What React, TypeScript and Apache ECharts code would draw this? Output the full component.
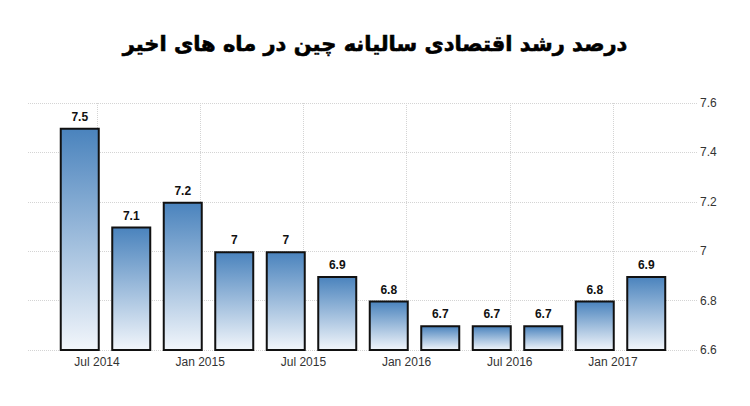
import React, { useEffect, useRef } from "react";
import * as echarts from "echarts";

const quarters = [
  "Q2 2014", "Q3 2014", "Q4 2014", "Q1 2015", "Q2 2015", "Q3 2015",
  "Q4 2015", "Q1 2016", "Q2 2016", "Q3 2016", "Q4 2016", "Q1 2017",
];
const growth = [7.5, 7.1, 7.2, 7, 7, 6.9, 6.8, 6.7, 6.7, 6.7, 6.8, 6.9];
const tickLabels = ["Jul 2014", "Jan 2015", "Jul 2015", "Jan 2016", "Jul 2016", "Jan 2017"];
const yTicks = { min: 6.6, max: 7.6, step: 0.2 };

const title = "درصد رشد اقتصادی سالیانه چین در ماه های اخیر";

export default function App() {
  const chartRef = useRef<HTMLDivElement>(null);

  useEffect(() => {
    document.body.style.margin = "0";
    if (!chartRef.current) return;
    const chart = echarts.init(chartRef.current, null, { renderer: "svg" });

    const gridLine = { show: true, lineStyle: { color: "#d4d4d4", type: "dotted" as const, width: 1 } };

    chart.setOption({
      animation: false,
      backgroundColor: "#fff",
      title: {
        text: title,
        left: "center",
        top: 28,
        textStyle: {
          fontFamily: "DejaVu Sans",
          fontSize: 21,
          fontWeight: "bold",
          color: "#000",
          textBorderColor: "#000",
          textBorderWidth: 0.6,
        },
      },
      grid: [
        // horizontal gridlines + right axis labels
        { left: 28, right: 53, top: 103, bottom: 56 },
        // bars
        { left: 54, right: 78, top: 103, bottom: 56 },
        // vertical gridlines + date labels
        { left: 97, right: 137, top: 103, bottom: 56 },
      ],
      xAxis: [
        { gridIndex: 0, type: "value", show: false, min: 0, max: 1 },
        {
          gridIndex: 1,
          type: "category",
          data: quarters,
          show: false,
          boundaryGap: true,
        },
        {
          gridIndex: 2,
          type: "value",
          min: 0,
          max: (tickLabels.length - 1) * 2,
          interval: 2,
          axisLine: { show: false },
          axisTick: { show: false },
          splitLine: gridLine,
          axisLabel: {
            margin: 6,
            color: "#333",
            fontSize: 12,
            fontFamily: "Liberation Sans",
            formatter: (v: number) => tickLabels[Math.round(v / 2)] ?? "",
          },
        },
      ],
      yAxis: [
        {
          gridIndex: 0,
          type: "value",
          position: "right",
          min: yTicks.min,
          max: yTicks.max,
          interval: yTicks.step,
          axisLine: { show: false },
          axisTick: { show: false },
          splitLine: gridLine,
          axisLabel: {
            margin: 3,
            color: "#333",
            fontSize: 12,
            fontFamily: "Liberation Sans",
            formatter: (v: number) => String(Math.round(v * 10) / 10),
          },
        },
        { gridIndex: 1, type: "value", show: false, min: yTicks.min, max: yTicks.max },
        { gridIndex: 2, type: "value", show: false, min: 0, max: 1 },
      ],
      series: [
        {
          type: "bar",
          xAxisIndex: 1,
          yAxisIndex: 1,
          data: growth,
          barWidth: 40,
          itemStyle: {
            color: new echarts.graphic.LinearGradient(0, 0, 0, 1, [
              { offset: 0, color: "#4a83bd" },
              { offset: 1, color: "#f2f6fb" },
            ]),
            borderColor: "#111",
            borderWidth: 2,
          },
          label: {
            show: true,
            position: "top",
            distance: 5,
            color: "#111",
            fontSize: 12,
            fontWeight: "bold",
            fontFamily: "Liberation Sans",
          },
        },
      ],
    });

    return () => {
      chart.dispose();
    };
  }, []);

  return <div ref={chartRef} style={{ width: 750, height: 406 }} />;
}
